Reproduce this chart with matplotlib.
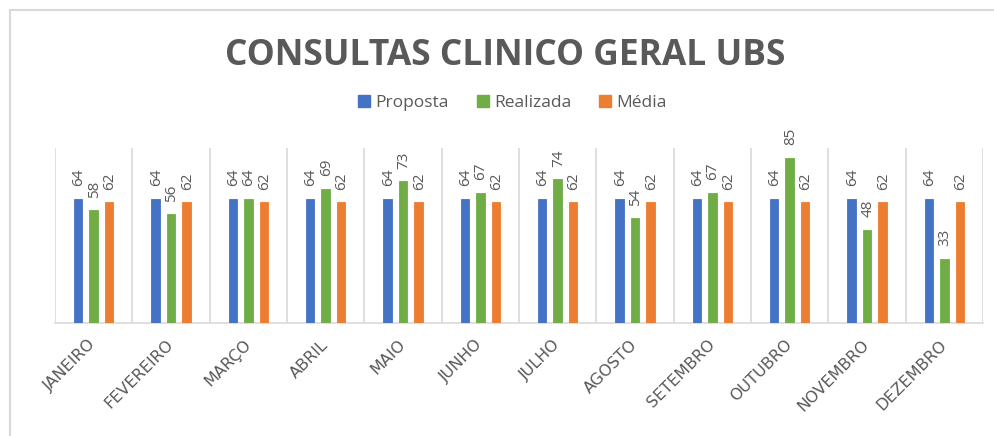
import matplotlib
matplotlib.use("Agg")
import matplotlib.pyplot as plt
import numpy as np
from matplotlib.patches import Patch
from matplotlib.lines import Line2D

months = ["JANEIRO", "FEVEREIRO", "MARÇO", "ABRIL", "MAIO", "JUNHO",
          "JULHO", "AGOSTO", "SETEMBRO", "OUTUBRO", "NOVEMBRO", "DEZEMBRO"]
proposta = [64, 64, 64, 64, 64, 64, 64, 64, 64, 64, 64, 64]
realizada = [58, 56, 64, 69, 73, 67, 74, 54, 67, 85, 48, 33]
media = [62, 62, 62, 62, 62, 62, 62, 62, 62, 62, 62, 62]
series_names = ["Proposta", "Realizada", "Média"]

colors = ["#4472C4", "#70AD47", "#ED7D31"]
gray = "#595959"
light = "#D9D9D9"

plt.rcParams['font.family'] = ['Open Sans', 'DejaVu Sans']

fig = plt.figure(figsize=(9.95, 4.36), dpi=100)
ax = fig.add_axes([55/995, 1-323/436, (983-55)/995, (323-148)/436])

x = np.arange(len(months))
w = 0.11
step = 0.20
for i, (vals, c) in enumerate(zip([proposta, realizada, media], colors)):
    pos = x + (i - 1) * step
    ax.bar(pos, vals, width=w, color=c, edgecolor=c, linewidth=0.6, zorder=3)
    for p, v in zip(pos, vals):
        ax.annotate(str(v), (p, v), xytext=(0.5, 9), textcoords="offset points",
                    rotation=90, ha="center", va="bottom", fontsize=11,
                    color=gray)

ax.set_xlim(-0.5, len(months) - 0.5)
ax.set_ylim(0, 90)
ax.set_yticks([])
for b in np.arange(-0.5, len(months), 1.0):
    ax.axvline(b, color=light, linewidth=1.2, zorder=1)
for s in ["top", "right", "left"]:
    ax.spines[s].set_visible(False)
ax.spines["bottom"].set_color(light)
ax.spines["bottom"].set_linewidth(1.2)

ax.set_xticks(x)
ax.set_xticklabels(months, rotation=45, ha="right", va="center",
                   rotation_mode="anchor", fontsize=11.5, color=gray,
                   family=["DejaVu Sans"])
ax.tick_params(axis="x", length=0, pad=14)

fig.text(0.508, 1-56/436, "CONSULTAS CLINICO GERAL UBS", ha="center", va="center",
         fontsize=25.5, fontweight="bold", color=gray)

handles = [Patch(facecolor=c, edgecolor=c) for c in colors]
fig.legend(handles, series_names, loc="center", bbox_to_anchor=(0.515, 1-103/436),
           ncol=3, frameon=False, fontsize=12.5, labelcolor=gray,
           handlelength=0.7, handleheight=0.7, handletextpad=0.3,
           columnspacing=1.6)

fig.add_artist(Line2D([10.5/995, 1.0], [1-10.5/436, 1-10.5/436], color=light, linewidth=1.5))
fig.add_artist(Line2D([10.5/995, 10.5/995], [0, 1-10.5/436], color=light, linewidth=1.5))

fig.savefig("out.png", dpi=100)
